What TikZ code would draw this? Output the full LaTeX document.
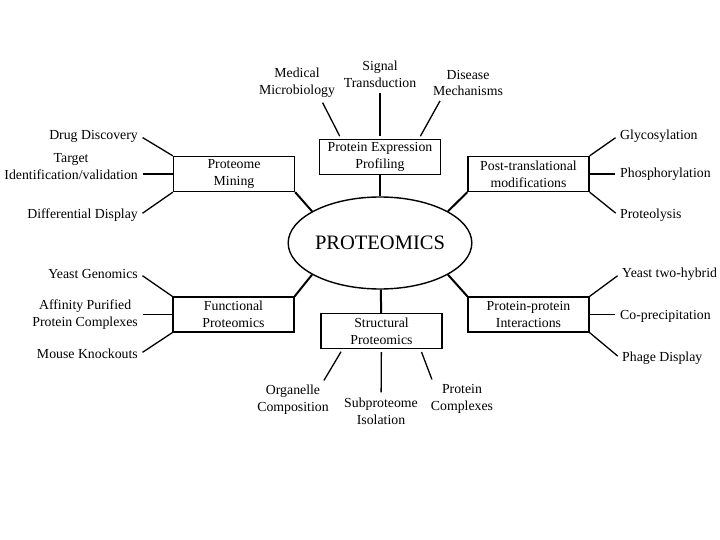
\documentclass[tikz,border=0pt]{standalone}
\usepackage{fontspec}
\setmainfont{Liberation Serif}
\usetikzlibrary{shapes.geometric}

\begin{document}
\begin{tikzpicture}[x=1pt, y=-1pt,
    every node/.style={font=\fontsize{13.8}{17}\selectfont},
    box/.style={draw, line width=1.3pt, minimum width=121pt, minimum height=35pt, align=center, inner sep=1pt},
    leaf/.style={align=center, inner sep=2pt},
    twig/.style={line width=1.3pt, shorten <=3pt},
    spoke/.style={line width=2pt}]
    \useasboundingbox[fill=white] (0,0) rectangle (720,540);

    \node[draw, ellipse, line width=1.4pt, minimum width=151pt, minimum height=92pt, inner sep=0pt,
          font=\fontsize{20.5}{24}\selectfont] (core) at (380,243) {PROTEOMICS};

    \node[box] (pep) at (380,157) {Protein Expression\\Profiling};
    \node[box] (mining) at (234,174) {Proteome\\Mining};
    \node[box] (ptm) at (528.5,174) {Post-translational\\modifications};
    \node[box] (functional) at (233.5,314.5) {Functional\\Proteomics};
    \node[box] (ppi) at (528.5,314.5) {Protein-protein\\Interactions};
    \node[box] (structural) at (381.5,331) {Structural\\Proteomics};

    \node[leaf] (medical) at (297,83) {Medical\\Microbiology};
    \node[leaf] (signal) at (380,74) {Signal\\Transduction};
    \node[leaf] (disease) at (468,83) {Disease\\Mechanisms};

    \node[leaf, anchor=east] (drug) at (140,136) {Drug Discovery};
    \node[leaf, anchor=east] (target) at (140,166.5) {Target\\Identification/validation};
    \node[leaf, anchor=east] (diff) at (140,215) {Differential Display};

    \node[leaf, anchor=west] (glyco) at (618,136) {Glycosylation};
    \node[leaf, anchor=west] (phos) at (618,174) {Phosphorylation};
    \node[leaf, anchor=west] (proteo) at (618,215) {Proteolysis};

    \node[leaf, anchor=east] (yeastg) at (140,274) {Yeast Genomics};
    \node[leaf, anchor=east] (affinity) at (140,314.5) {Affinity Purified\\Protein Complexes};
    \node[leaf, anchor=east] (mouse) at (140,354) {Mouse Knockouts};

    \node[leaf, anchor=west] (yeast2) at (620,274) {Yeast two-hybrid};
    \node[leaf, anchor=west] (coprec) at (618,316) {Co-precipitation};
    \node[leaf, anchor=west] (phage) at (620,358) {Phage Display};

    \node[leaf] (organelle) at (293,400) {Organelle\\Composition};
    \node[leaf] (subprot) at (381,411) {Subproteome\\Isolation};
    \node[leaf] (complexes) at (462,399) {Protein\\Complexes};

    \draw[spoke] (pep) -- (core);
    \draw[spoke] (core) -- (structural);
    \draw[spoke] (mining.south east) -- (core.155);
    \draw[spoke] (ptm.south west) -- (core.25);
    \draw[spoke] (functional.north east) -- (core.205);
    \draw[spoke] (ppi.north west) -- (core.-25);

    \draw[twig, shorten >=3pt] (medical.-35) -- (pep.155);
    \draw[twig, shorten >=3pt] (signal) -- (pep);
    \draw[twig, shorten >=3pt] (disease.210) -- (pep.25);

    \draw[twig] (drug.east) -- (mining.north west);
    \draw[twig] (target.east |- mining.west) -- (mining.west);
    \draw[twig] (diff.east) -- (mining.south west);

    \draw[twig] (glyco.west) -- (ptm.north east);
    \draw[twig] (phos.west) -- (ptm.east);
    \draw[twig] (proteo.west) -- (ptm.south east);

    \draw[twig] (yeastg.east) -- (functional.north west);
    \draw[twig] (affinity.east) -- (functional.west);
    \draw[twig] (mouse.east) -- (functional.south west);

    \draw[twig] (yeast2.west) -- (ppi.north east);
    \draw[twig] (coprec.west |- ppi.east) -- (ppi.east);
    \draw[twig] (phage.west) -- (ppi.south east);

    \draw[twig, shorten >=3pt] (organelle.30) -- (structural.205);
    \draw[twig, shorten >=3pt] (subprot) -- (structural);
    \draw[twig, shorten >=3pt] (complexes.150) -- (structural.-25);
\end{tikzpicture}
\end{document}
